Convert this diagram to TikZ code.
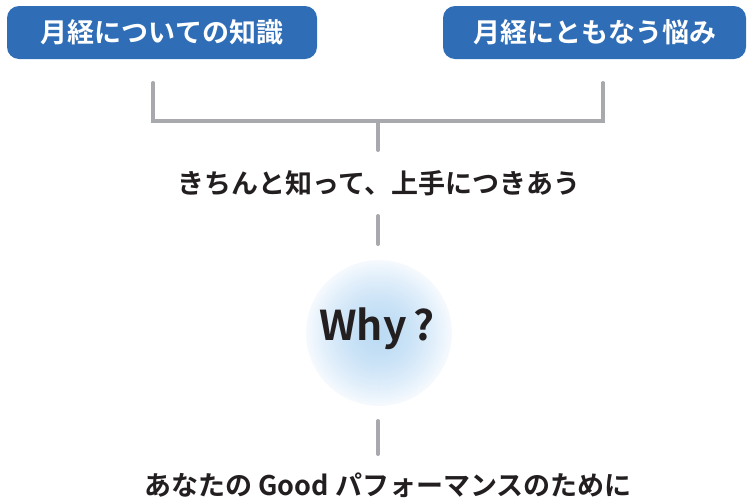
\documentclass[tikz,border=0pt]{standalone}
\usepackage{fontspec}
\newfontfamily\jpb{Noto Sans CJK JP Bold}
\definecolor{boxblue}{HTML}{2F6EB6}
\definecolor{linegray}{HTML}{A8A9AC}
\definecolor{txt}{HTML}{231F20}
\definecolor{glowin}{HTML}{BCDBF4}
\definecolor{glowout}{HTML}{F6FAFE}
\begin{document}
\begin{tikzpicture}[x=1pt,y=1pt,
  topbox/.style={draw=none,fill=boxblue,rounded corners=12pt,text=white,font=\jpb\fontsize{27}{31}\selectfont,inner sep=0pt},
  conn/.style={draw=linegray,line width=4pt,line cap=round},
  label/.style={text=txt,font=\jpb\fontsize{27}{31}\selectfont,inner sep=0pt}]
\useasboundingbox (0,0) rectangle (747,-499);
\node[topbox,minimum width=310pt,minimum height=53pt] (k) at (162,-32.5) {月経についての知識};
\node[topbox,minimum width=303pt,minimum height=53pt] (n) at (594.5,-32.5) {月経にともなう悩み};
\coordinate (bl) at (153,-84);
\coordinate (br) at (603,-84);
\coordinate (bm) at (378,-121);
\coordinate (bs) at (378,-150);
\draw[conn,line cap=butt,line join=miter] ([yshift=2pt]bl) |- (bm) -| ([yshift=2pt]br);
\draw[conn] (bl) -- ++(0,1);
\draw[conn] (br) -- ++(0,1);
\draw[conn] (bm) -- (bs);
\node[label] (t1) at (379,-183) {きちんと知って、上手につきあう};
\coordinate (s2a) at (378,-216);
\coordinate (s2b) at (378,-244);
\draw[conn] (s2a) -- (s2b);
\coordinate (cc) at (379,-333);
\foreach \i in {0,...,72}{
  \pgfmathsetmacro{\rr}{73-\i}
  \pgfmathsetmacro{\pp}{100*(1-(\rr/73)^1.6)}
  \fill[glowin!\pp!glowout] (cc) circle (\rr);
}
\node[text=txt,font=\jpb\fontsize{41}{45}\selectfont,inner sep=0pt] (why) at (377,-329) {Why\,?};
\coordinate (s3a) at (378,-421);
\coordinate (s3b) at (378,-454);
\draw[conn] (s3a) -- (s3b);
\node[label] (t2) at (388,-485) {あなたの Good パフォーマンスのために};
\end{tikzpicture}
\end{document}
